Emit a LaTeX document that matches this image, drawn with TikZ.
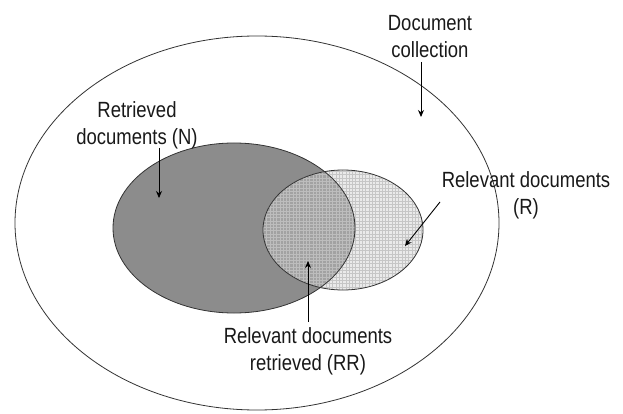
\documentclass[tikz,border=0pt]{standalone}
\usepackage{fontspec}
\setmainfont{Liberation Sans}[FakeStretch=0.84]
\usetikzlibrary{arrows.meta}
\definecolor{darkfill}{HTML}{8C8C8C}
\definecolor{lightfill}{HTML}{EAEAEA}
\definecolor{lightgrid}{HTML}{C6C6C6}
\definecolor{midfill}{HTML}{A2A2A2}
\definecolor{midgrid}{HTML}{BDBDBD}
\tikzset{
  lbl/.style={align=center, inner sep=0pt, font=\fontsize{22}{27}\selectfont, text=black!90},
  pointer/.style={draw=black, line width=0.9pt, -{Stealth[length=7pt,width=6pt]}},
  rim/.style={draw=black!80, line width=0.8pt},
  gridlines/.style={line width=0.5pt},
}
\begin{document}
\begin{tikzpicture}[x=1pt,y=-1pt]
\useasboundingbox (0,0) rectangle (623,414);
% outer collection
\draw[rim, fill=white] (257,223) ellipse [x radius=242, y radius=187];
% retrieved N
\fill[darkfill] (234,228) ellipse [x radius=121, y radius=85];
% relevant R
\fill[lightfill] (343,230) ellipse [x radius=80, y radius=60];
\begin{scope}
  \clip (343,230) ellipse [x radius=80, y radius=60];
  \foreach \gx in {0,...,51} {\draw[gridlines, lightgrid] (260+3.3*\gx,168) -- (260+3.3*\gx,292);}
  \foreach \gy in {0,...,38} {\draw[gridlines, lightgrid] (260,168+3.3*\gy) -- (426,168+3.3*\gy);}
  \clip (234,228) ellipse [x radius=121, y radius=85];
  \fill[midfill] (260,168) rectangle (426,292);
  \foreach \gx in {0,...,51} {\draw[gridlines, midgrid] (260+3.3*\gx,168) -- (260+3.3*\gx,292);}
  \foreach \gy in {0,...,38} {\draw[gridlines, midgrid] (260,168+3.3*\gy) -- (426,168+3.3*\gy);}
\end{scope}
\draw[rim] (234,228) ellipse [x radius=121, y radius=85];
\draw[rim] (343,230) ellipse [x radius=80, y radius=60];
% labels
\node[lbl] (dc) at (430,37) {Document\\collection};
\node[lbl] (rn) at (137,125) {Retrieved\\documents (N)};
\node[lbl] (rr) at (526,195) {Relevant documents\\(R)};
\node[lbl] (rrr) at (308,351) {Relevant documents\\retrieved (RR)};
% connector ends
\coordinate (dcT) at (421,62);  \coordinate (dcH) at (421,117);
\coordinate (rnT) at (159,148); \coordinate (rnH) at (159,198);
\coordinate (rrT) at (440,202); \coordinate (rrH) at (405,246);
\coordinate (rrrT) at (308,322); \coordinate (rrrH) at (308,261);
\draw[pointer] (dcT) -- (dcH);
\draw[pointer] (rnT) -- (rnH);
\draw[pointer] (rrT) -- (rrH);
\draw[pointer] (rrrT) -- (rrrH);
\end{tikzpicture}
\end{document}
